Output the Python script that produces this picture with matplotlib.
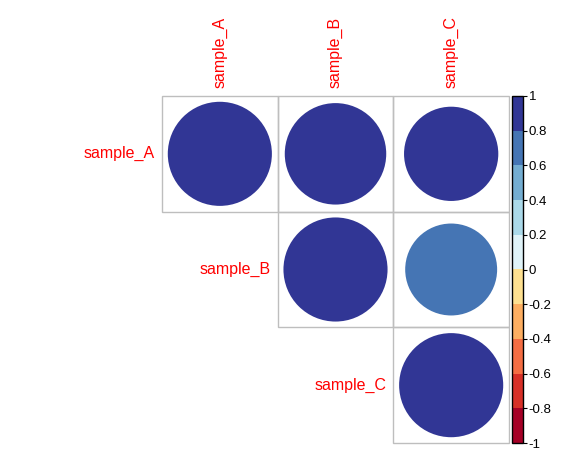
import numpy as np
import matplotlib.pyplot as plt
from matplotlib.patches import Circle, Rectangle
from matplotlib.colors import ListedColormap, BoundaryNorm
import matplotlib as mpl

plt.rcParams['font.family'] = ['Liberation Sans', 'DejaVu Sans']

samples = ['sample_A', 'sample_B', 'sample_C']
corr = np.array([
    [1.00, 0.95, 0.82],
    [0.95, 1.00, 0.78],
    [0.82, 0.78, 1.00],
])

palette = ['#A50026', '#D73027', '#F46D43', '#FDAE61', '#FEE090',
           '#E0F3F8', '#ABD9E9', '#74ADD1', '#4575B4', '#313695']
bounds = np.linspace(-1, 1, 11)
cmap = ListedColormap(palette)
norm = BoundaryNorm(bounds, cmap.N)

W, H = 585, 468
fig = plt.figure(figsize=(W / 100, H / 100), dpi=100)

# main grid axes (cell units)
ax = fig.add_axes([162 / W, 1 - 443 / H, 347 / W, 347 / H])
n = len(samples)
ax.set_xlim(0, n)
ax.set_ylim(n, 0)
ax.set_axis_off()

for i in range(n):
    for j in range(i, n):
        ax.add_patch(Rectangle((j, i), 1, 1, fill=False, edgecolor='#BEBEBE',
                               linewidth=1.0, clip_on=False))
        r = corr[i, j]
        ax.add_patch(Circle((j + 0.5, i + 0.5), 0.45 * np.sqrt(abs(r)),
                            facecolor=cmap(norm(r)), edgecolor='none'))
    # row label
    ax.text(i - 0.06, i + 0.5, samples[i], color='red', fontsize=11.5,
            ha='right', va='center', clip_on=False)
    # column label
    ax.text(i + 0.5, -0.07, samples[i], color='red', fontsize=11.5,
            rotation=90, ha='center', va='bottom', clip_on=False)

# colour legend
cax = fig.add_axes([512 / W, 1 - 443 / H, 11 / W, 347 / H])
cb = mpl.colorbar.ColorbarBase(cax, cmap=cmap, norm=norm, boundaries=bounds,
                               ticks=bounds, orientation='vertical')
cb.set_ticklabels(['-1', '-0.8', '-0.6', '-0.4', '-0.2', '0',
                   '0.2', '0.4', '0.6', '0.8', '1'])
cb.outline.set_linewidth(1.0)
cax.tick_params(length=3, width=0.8, labelsize=9.5, pad=1)

fig.savefig('out.png', dpi=100)
